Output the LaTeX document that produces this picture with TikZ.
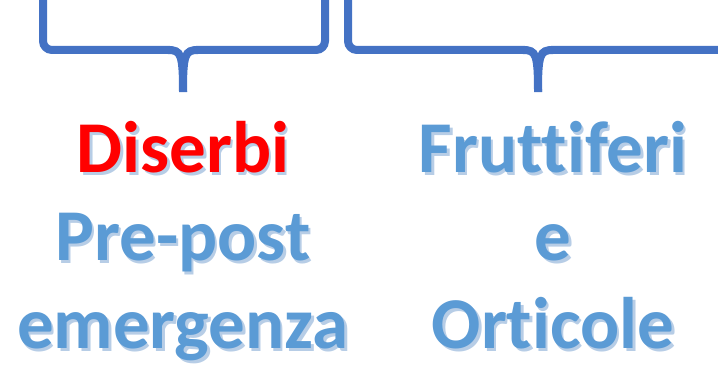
\documentclass[tikz,border=0pt]{standalone}
\usepackage{fontspec}
\usepackage{xcolor}
\newfontfamily\carlito[Ligatures=CommonOff]{Carlito}
\usetikzlibrary{calc}
\definecolor{brblue}{HTML}{4472C4}
\definecolor{txblue}{HTML}{5B9BD5}
\definecolor{shblue}{HTML}{B7CDE6}
\definecolor{txred}{HTML}{FF0000}
% text with a soft drop shadow
\newcommand{\shtext}[2]{\makebox[0pt][l]{\hspace{2.5pt}\raisebox{-3pt}{\color{shblue}#2}}{\color{#1}#2}}

\begin{document}
\begin{tikzpicture}[
  x=1pt, y=1pt,
  brace/.style={draw=brblue, line width=8pt, rounded corners=9pt},
  label/.style={font=\carlito\bfseries\fontsize{73}{88}\selectfont, align=center, anchor=base, inner sep=0pt},
]
\useasboundingbox (0,0) rectangle (718,365);
\clip (0,0) rectangle (718,365);

% brace tips
\coordinate (tipA) at (183,273);
\coordinate (tipB) at (538,273);

% left brace
\draw[brace] (43,372) -- (43,315) -- (170,315);
\draw[brace] (325,372) -- (325,315) -- (196,315);
\draw[draw=brblue, line width=8pt] (168,315) .. controls (181,315) and (183,311) .. (tipA);
\draw[draw=brblue, line width=8pt] (198,315) .. controls (185,315) and (183,311) .. (tipA);

% right brace
\draw[brace] (348,372) -- (348,315) -- (525,315);
\draw[brace] (728,372) -- (728,315) -- (551,315);
\draw[draw=brblue, line width=8pt] (523,315) .. controls (536,315) and (538,311) .. (tipB);
\draw[draw=brblue, line width=8pt] (553,315) .. controls (540,315) and (538,311) .. (tipB);

% labels (base = baseline of the last line)
\node[label] (diserbi) at (183,17) {\shtext{txred}{Diserbi}\\\shtext{txblue}{Pre-post}\\\shtext{txblue}{emergenza}};
\node[label] (frutti) at (553,17) {\shtext{txblue}{Fruttiferi}\\\shtext{txblue}{e}\\\shtext{txblue}{Orticole}};

\end{tikzpicture}
\end{document}
